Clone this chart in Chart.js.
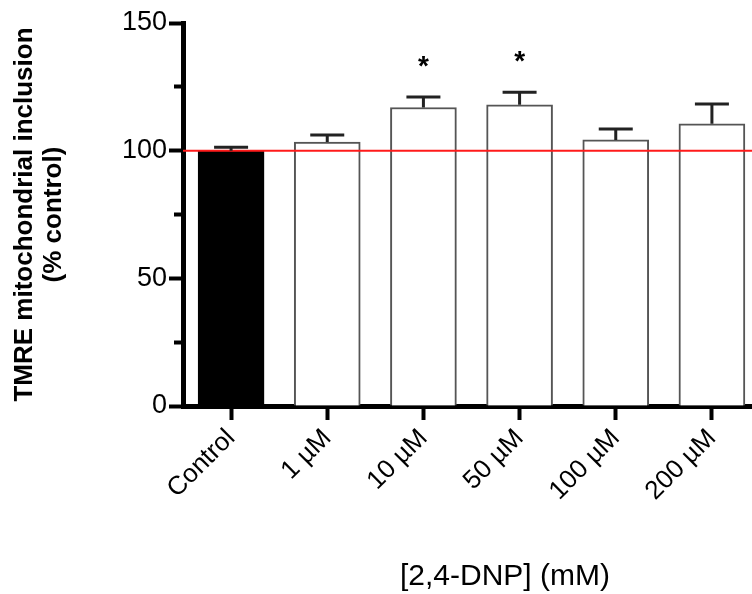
<!DOCTYPE html>
<html>
<head>
<meta charset="utf-8">
<script src="https://cdn.jsdelivr.net/npm/chart.js@4/dist/chart.umd.min.js"></script>
<style>
  html, body { margin: 0; padding: 0; overflow: hidden; background: #fff; }
  #wrap { width: 760px; height: 594px; }
</style>
</head>
<body>
<div id="wrap"><canvas id="myChart" width="760" height="594"></canvas></div>
<script>
const doseLabels = ['Control', '1 µM', '10 µM', '50 µM', '100 µM', '200 µM'];
const inclusionMeans = [100, 103.4, 116.9, 118.0, 104.2, 110.5];
const inclusionSem = [1.3, 2.7, 4.1, 4.9, 4.3, 7.8];
const significant = [false, false, true, true, false, false];
const controlLevel = 100;

const FONT = 'Liberation Sans, Arial, Helvetica, sans-serif';

// red reference line at the control level, error bars and significance stars
const overlays = {
  id: 'overlays',
  afterDatasetsDraw(chart) {
    const { ctx, chartArea, scales } = chart;
    const y = scales.y;
    const meta = chart.getDatasetMeta(0);

    ctx.save();
    ctx.strokeStyle = '#ff1a1a';
    ctx.lineWidth = 2;
    ctx.beginPath();
    ctx.moveTo(chartArea.left, y.getPixelForValue(controlLevel));
    ctx.lineTo(chartArea.right, y.getPixelForValue(controlLevel));
    ctx.stroke();

    meta.data.forEach((bar, i) => {
      const top = y.getPixelForValue(inclusionMeans[i]);
      const cap = y.getPixelForValue(inclusionMeans[i] + inclusionSem[i]);
      ctx.strokeStyle = '#222';
      ctx.lineWidth = 3;
      ctx.beginPath();
      ctx.moveTo(bar.x, top);
      ctx.lineTo(bar.x, cap);
      ctx.moveTo(bar.x - 17, cap);
      ctx.lineTo(bar.x + 17, cap);
      ctx.stroke();

      if (significant[i]) {
        ctx.fillStyle = '#000';
        ctx.font = 'bold 28px ' + FONT;
        ctx.textAlign = 'center';
        ctx.textBaseline = 'alphabetic';
        ctx.fillText('*', bar.x, cap - 22);
      }
    });
    ctx.restore();
  },
  afterDraw(chart) {
    const { ctx, chartArea } = chart;
    ctx.save();
    ctx.fillStyle = '#000';
    ctx.font = '30px ' + FONT;
    ctx.textAlign = 'center';
    ctx.textBaseline = 'alphabetic';
    ctx.fillText('[2,4-DNP] (mM)', chartArea.left + 322, 585);
    ctx.restore();
  }
};

const ctx = document.getElementById('myChart').getContext('2d');

new Chart(ctx, {
  type: 'bar',
  data: {
    labels: doseLabels,
    datasets: [{
      data: inclusionMeans,
      backgroundColor: ['#000', '#fff', '#fff', '#fff', '#fff', '#fff'],
      borderColor: ['#000', '#555', '#555', '#555', '#555', '#555'],
      borderWidth: 2,
      barThickness: 66,
    }]
  },
  options: {
    responsive: false,
    animation: false,
    layout: { padding: { top: 23, left: 0, right: 0, bottom: 0 } },
    plugins: {
      legend: { display: false },
      tooltip: { enabled: false },
    },
    scales: {
      x: {
        z: 1,
        offset: true,
        afterFit: (scale) => { scale.height = 188; },
        grid: {
          offset: false,
          drawOnChartArea: false,
          tickLength: 14,
          tickWidth: 4,
          tickColor: '#000',
        },
        border: { display: true, color: '#000', width: 5 },
        ticks: {
          color: '#000',
          autoSkip: false,
          maxRotation: 45,
          minRotation: 45,
          padding: 3,
          font: { family: FONT, size: 26 },
        },
      },
      y: {
        z: 1,
        min: 0,
        max: 150,
        afterFit: (scale) => { scale.width = 183; },
        grid: {
          drawOnChartArea: false,
          tickLength: 14,
          tickWidth: 4,
          tickColor: '#000',
          // shorter marks for the in-between ticks
          tickBorderDash: (c) => (c.tick && c.tick.value % 50 !== 0 ? [0, 5, 30, 0] : []),
        },
        border: { display: true, color: '#000', width: 5 },
        ticks: {
          stepSize: 25,
          color: '#000',
          padding: 2,
          font: { family: FONT, size: 27 },
          callback: (v) => (v % 50 === 0 ? v : ''),
        },
        title: {
          display: true,
          text: ['TMRE mitochondrial inclusion', '(% control)'],
          color: '#000',
          padding: { top: 10, bottom: 0 },
          font: { family: FONT, size: 26, weight: 'bold', lineHeight: 1.12 },
        },
      },
    },
  },
  plugins: [overlays],
});
</script>
</body>
</html>
